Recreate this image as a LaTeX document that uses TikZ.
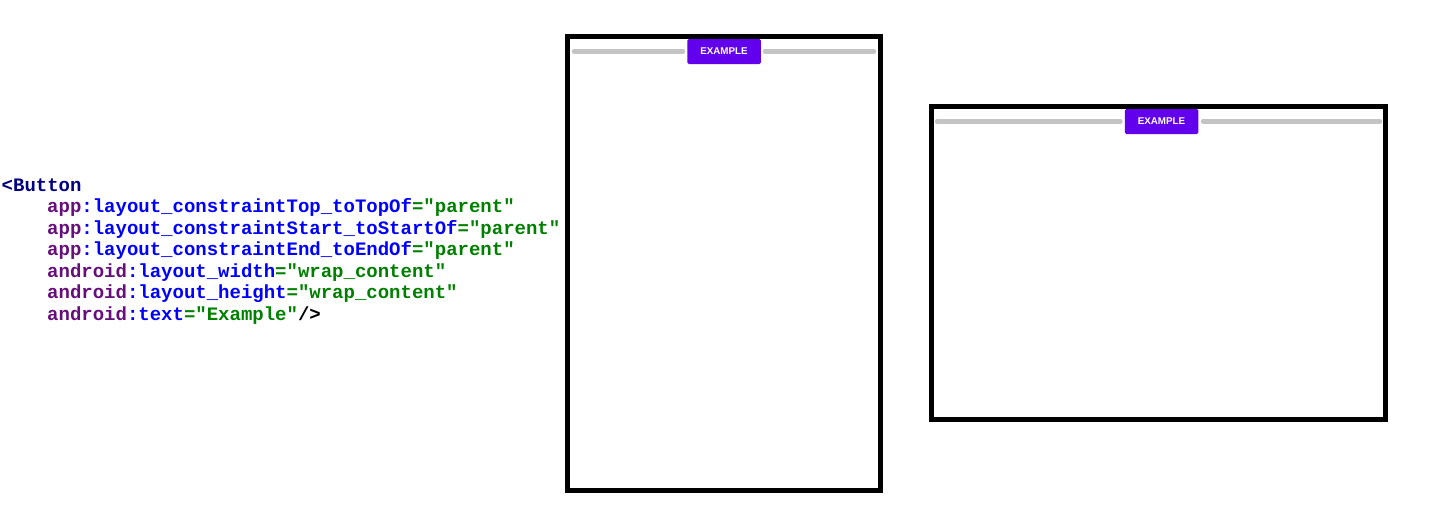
\documentclass[tikz,border=0pt]{standalone}
\usepackage{fontspec}
\setmainfont{Liberation Sans}
\setmonofont{Liberation Mono}
\definecolor{tagc}{HTML}{000080}
\definecolor{nsc}{HTML}{660E7A}
\definecolor{attrc}{HTML}{0000FF}
\definecolor{valc}{HTML}{008000}
\definecolor{btnc}{HTML}{6200EE}
\definecolor{linec}{HTML}{C4C4C4}
\newcommand{\xns}[1]{\textcolor{nsc}{#1}}
\newcommand{\xat}[1]{\textcolor{attrc}{#1}}
\newcommand{\xva}[1]{\textcolor{valc}{#1}}
\begin{document}
\begin{tikzpicture}[x=1pt,y=-1pt,
  codeline/.style={anchor=base west,inner sep=0pt,font=\ttfamily\bfseries\fontsize{19}{21.5}\selectfont},
  phone/.style={draw=black,line width=5pt,inner sep=0pt,fill=white},
  btn/.style={fill=btnc,rounded corners=1.5pt,inner sep=0pt,minimum width=73.5pt,minimum height=25pt,text=white,font=\bfseries\fontsize{9.8}{10}\selectfont},
  cline/.style={draw=linec,line width=4.3pt,line cap=round}]
\useasboundingbox (0,0) rectangle (1449,528);
% code
\node[codeline,text=tagc] (l0) at (1.5,191) {<Button};
\node[codeline] (l1) at (47,212.5) {\xns{app}\xat{:layout\_constraintTop\_toTopOf}\xva{="parent"}};
\node[codeline] (l2) at (47,234) {\xns{app}\xat{:layout\_constraintStart\_toStartOf}\xva{="parent"}};
\node[codeline] (l3) at (47,255.5) {\xns{app}\xat{:layout\_constraintEnd\_toEndOf}\xva{="parent"}};
\node[codeline] (l4) at (47,277) {\xns{android}\xat{:layout\_width}\xva{="wrap\_content"}};
\node[codeline] (l5) at (47,298.5) {\xns{android}\xat{:layout\_height}\xva{="wrap\_content"}};
\node[codeline] (l6) at (47,320) {\xns{android}\xat{:text}\xva{="Example"}\textcolor{black}{/>}};
% portrait phone
\node[phone,minimum width=313pt,minimum height=454pt] (p1) at (724,263.5) {};
\node[btn] (b1) at (724,51.5) {EXAMPLE};
\coordinate (p1l) at (574,51.5);
\coordinate (p1r) at (874,51.5);
\draw[cline] (p1l) -- ([xshift=-4pt]b1.west);
\draw[cline] ([xshift=4pt]b1.east) -- (p1r);
% landscape phone
\node[phone,minimum width=454pt,minimum height=313pt] (p2) at (1158.5,263) {};
\node[btn] (b2) at (1161.5,121.5) {EXAMPLE};
\coordinate (p2l) at (937,121.5);
\coordinate (p2r) at (1380,121.5);
\draw[cline] (p2l) -- ([xshift=-4pt]b2.west);
\draw[cline] ([xshift=4.5pt]b2.east) -- (p2r);
\end{tikzpicture}
\end{document}
